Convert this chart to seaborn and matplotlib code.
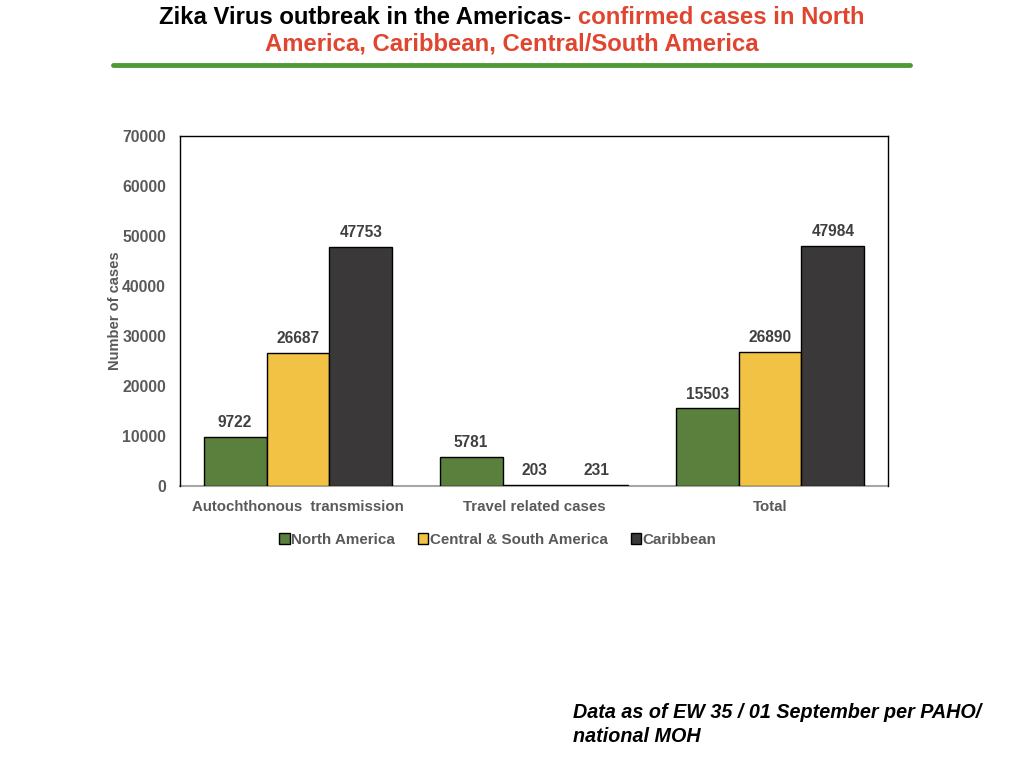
import matplotlib
matplotlib.use("Agg")
import matplotlib.pyplot as plt
import seaborn as sns
import pandas as pd
from matplotlib.lines import Line2D

categories = ["Autochthonous  transmission", "Travel related cases", "Total"]
series_names = ["North America", "Central & South America", "Caribbean"]
north_america = [9722, 5781, 15503]
central_south = [26687, 203, 26890]
caribbean = [47753, 231, 47984]
y_ticks = [0, 10000, 20000, 30000, 40000, 50000, 60000, 70000]
colors = ["#5b7f3c", "#f2c244", "#3b3839"]

rows = []
for name, vals in zip(series_names, [north_america, central_south, caribbean]):
    for c, v in zip(categories, vals):
        rows.append({"Category": c, "Region": name, "Cases": v})
df = pd.DataFrame(rows)

sns.set_theme(style="white")
plt.rcParams['font.family'] = ['Liberation Sans', 'DejaVu Sans']

fig = plt.figure(figsize=(10.24, 7.68), dpi=100)
ax = fig.add_axes([180/1024, 1-486/768, 708/1024, 350/768])

sns.barplot(data=df, x="Category", y="Cases", hue="Region", order=categories,
            hue_order=series_names, palette=colors, edgecolor="black",
            linewidth=1, width=0.8, saturation=1, ax=ax, errorbar=None)

ax.set_ylim(0, 70000)
ax.set_yticks(y_ticks)
ax.set_yticklabels([str(t) for t in y_ticks], fontsize=11.3, fontweight="bold", color="#595959")
ax.set_xticks(range(len(categories)))
ax.set_xticklabels(categories, fontsize=10.8, fontweight="bold", color="#595959")
ax.tick_params(axis="y", length=0, pad=10)
ax.tick_params(axis="x", length=0, pad=10)
ax.set_xlabel("")
ax.set_ylabel("Number of cases", fontsize=10.5, fontweight="bold", color="#595959", labelpad=0.5)

for s in ["top", "left", "right"]:
    ax.spines[s].set_color("black")
    ax.spines[s].set_linewidth(1)
ax.spines["bottom"].set_color("#a6a6a6")
ax.spines["bottom"].set_linewidth(1.5)
ax.spines["bottom"].set_zorder(0.5)

for cont in ax.containers:
    ax.bar_label(cont, padding=5, fontsize=11.2, fontweight="bold", color="#404040")

handles = [plt.Rectangle((0, 0), 1, 1, facecolor=c, edgecolor="black", linewidth=1) for c in colors]
ax.legend(handles, series_names, loc="upper center", bbox_to_anchor=(0.449, -0.095), ncol=3,
          frameon=False, handlelength=0.7, handleheight=0.7, handletextpad=0.1,
          columnspacing=1.5, prop={"size": 10.9, "weight": "bold"}, labelcolor="#595959")

# Title with two colours
title_font = ['Liberation Sans Narrow', 'Liberation Sans', 'DejaVu Sans']
t1 = fig.text(0, 1-17/768, "Zika Virus outbreak in the Americas- ", fontsize=17.2, fontweight="bold",
              color="black", va="center", ha="left", family=title_font)
t2 = fig.text(0, 1-17/768, "confirmed cases in North", fontsize=17.2, fontweight="bold",
              color="#e0452f", va="center", ha="left", family=title_font)
fig.canvas.draw()
r = fig.canvas.get_renderer()
w1 = t1.get_window_extent(r).width / 1024
w2 = t2.get_window_extent(r).width / 1024
start = 0.5 - (w1 + w2) / 2
t1.set_x(start)
t2.set_x(start + w1)
fig.text(0.5, 1-44/768, "America, Caribbean, Central/South America", fontsize=17.2, fontweight="bold",
         color="#e0452f", va="center", ha="center", family=title_font)

fig.add_artist(Line2D([113/1024, 910/1024], [1-65/768, 1-65/768], color="#4e9a35", linewidth=3.5))

fig.text(573/1024, 1-712/768, "Data as of EW 35 / 01 September per PAHO/", fontsize=14.2,
         fontweight="bold", fontstyle="italic", color="black", va="center", ha="left")
fig.text(573/1024, 1-737/768, "national MOH", fontsize=14.2,
         fontweight="bold", fontstyle="italic", color="black", va="center", ha="left")

fig.savefig("out.png", dpi=100)
